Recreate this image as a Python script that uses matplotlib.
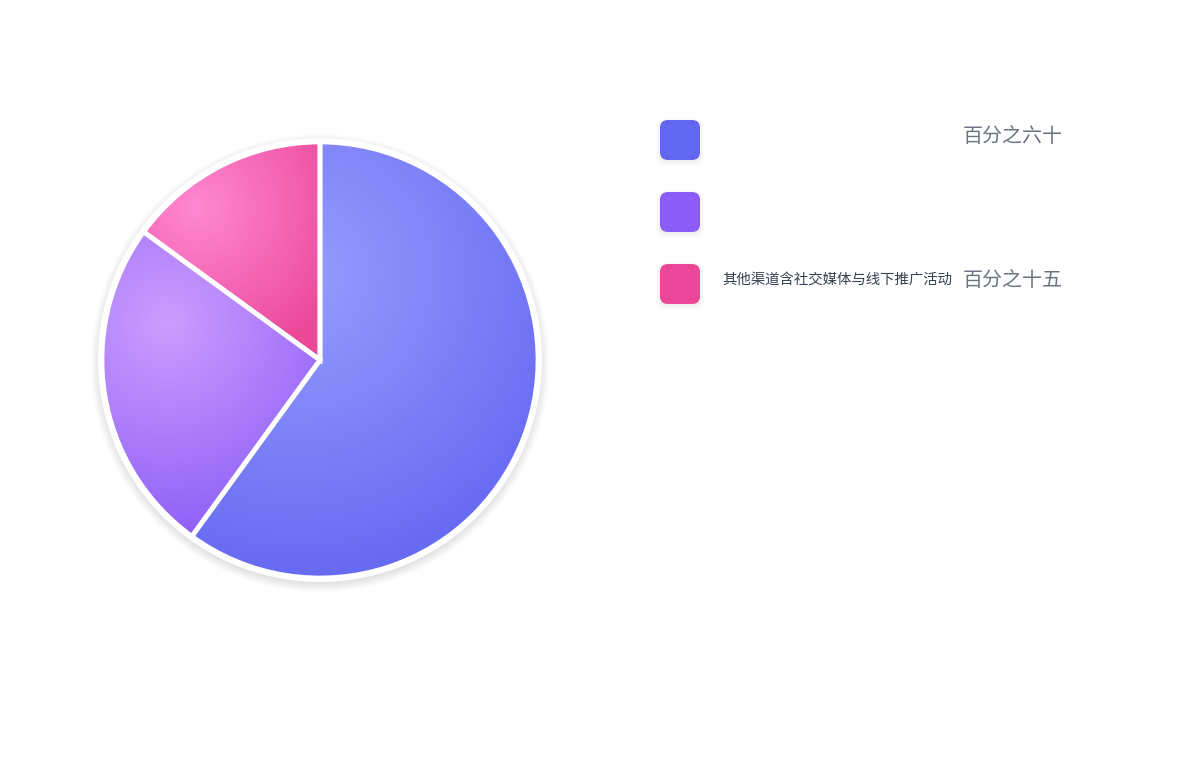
import numpy as np
import matplotlib
matplotlib.use("Agg")
import matplotlib.pyplot as plt
from matplotlib.patches import FancyBboxPatch, Circle
import matplotlib.colors as mcolors

plt.rcParams["font.family"] = ["Noto Sans CJK SC", "DejaVu Sans"]

# data
labels = ["", "", "其他渠道含社交媒体与线下推广活动"]
value_texts = ["百分之六十", "", "百分之十五"]
values = [60, 25, 15]
base_colors = ["#6366f1", "#8b5cf6", "#ec4899"]
light_colors = ["#979dfe", "#cc9dfe", "#ff88d2"]

W, H = 1200, 760
fig = plt.figure(figsize=(12, 7.6), dpi=100)
fig.patch.set_facecolor("white")
ax = fig.add_axes([0, 0, 1, 1])
ax.set_xlim(0, W)
ax.set_ylim(0, H)
ax.set_aspect("equal")
ax.axis("off")

cx, cy, R = 320, H - 360, 218

# soft shadow behind the pie
for k in range(10):
    ax.add_patch(Circle((cx, cy - 3), R + 2 + k, facecolor="#000000",
                        edgecolor="none", alpha=0.012, zorder=1))
ax.add_patch(Circle((cx, cy), R + 4, facecolor="white", edgecolor="none", zorder=2))

wedges, _ = ax.pie(values, center=(cx, cy), radius=R, startangle=90,
                   counterclock=False, colors=base_colors,
                   wedgeprops=dict(edgecolor="white", linewidth=3.4, zorder=3))

# radial gradient inside each slice
for w, c0, c1 in zip(wedges, light_colors, base_colors):
    verts = w.get_path().vertices
    x0, y0 = verts.min(axis=0)
    x1, y1 = verts.max(axis=0)
    bw, bh = x1 - x0, y1 - y0
    gx, gy = x0 + 0.3 * bw, y1 - 0.3 * bh
    rr = 0.75 * max(bw, bh)
    xs = np.linspace(x0, x1, 300)
    ys = np.linspace(y0, y1, 300)
    X, Y = np.meshgrid(xs, ys)
    t = np.clip(np.hypot(X - gx, Y - gy) / rr, 0, 1)[..., None]
    a = np.array(mcolors.to_rgb(c0))
    b = np.array(mcolors.to_rgb(c1))
    img = a * (1 - t) + b * t
    im = ax.imshow(img, extent=(x0, x1, y0, y1), origin="lower",
                   interpolation="bilinear", zorder=3.5)
    im.set_clip_path(w)
    w.set_zorder(4)
    w.set_facecolor("none")

ax.set_xlim(0, W)
ax.set_ylim(0, H)
ax.set_aspect("equal")

# legend
for i, (lab, vt, col) in enumerate(zip(labels, value_texts, base_colors)):
    yc = H - (140 + 72 * i)
    for k in range(5):
        ax.add_patch(FancyBboxPatch((660 - k, yc - 20 - 2 - k), 40 + 2 * k, 40 + 2 * k,
                                    boxstyle="round,pad=0,rounding_size=%d" % (8 + k),
                                    facecolor="#000000", edgecolor="none",
                                    alpha=0.012, zorder=5))
    ax.add_patch(FancyBboxPatch((660, yc - 20), 40, 40,
                                boxstyle="round,pad=0,rounding_size=8",
                                facecolor=col, edgecolor="none", zorder=6))
    # long label shrunk a bit so it stops before the value text
    lab_size = 14.4 if len(lab) < 12 else 10.4
    ax.text(722, yc + 4, lab, fontsize=lab_size, color="#374151",
            ha="left", va="center", zorder=7)
    ax.text(1063, yc + 4, vt, fontsize=14.4, color="#6b7280",
            ha="right", va="center", zorder=7)

fig.savefig("out.png", dpi=100, facecolor="white")
